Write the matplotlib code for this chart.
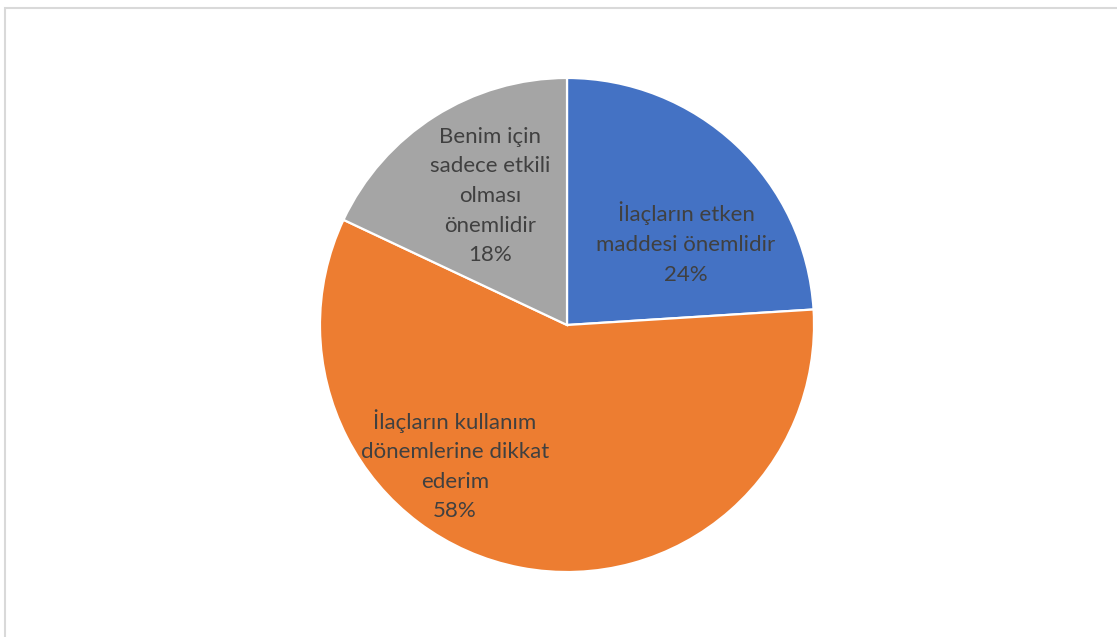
import matplotlib.pyplot as plt
from matplotlib.patches import Rectangle

labels = ["İlaçların etken\nmaddesi önemlidir",
          "İlaçların kullanım\ndönemlerine dikkat\nederim",
          "Benim için\nsadece etkili\nolması\nönemlidir"]
values = [24, 58, 18]
colors = ["#4472C4", "#ED7D31", "#A5A5A5"]
# label anchor points (fraction of radius)
label_pos = [(0.482, 0.332), (-0.453, -0.567), (-0.312, 0.522)]

plt.rcParams['font.family'] = ['Lato', 'DejaVu Sans']

fig = plt.figure(figsize=(11.17, 6.37), dpi=100)
cx, cy, r = 567, 637 - 325, 249.5
ax = fig.add_axes([(cx - r) / 1117, (cy - r) / 637, 2 * r / 1117, 2 * r / 637])

wedges, _ = ax.pie(values, colors=colors, startangle=90, counterclock=False,
                   radius=1, wedgeprops=dict(edgecolor="white", linewidth=1.6))
ax.set_xlim(-1.01, 1.01)
ax.set_ylim(-1.01, 1.01)
ax.set_aspect("equal")
ax.axis("off")

for lab, v, (x, y) in zip(labels, values, label_pos):
    ax.text(x, y, f"{lab}\n{v}%", ha="center", va="center", fontsize=16,
            color="#404040", linespacing=1.6)

fig.patches.append(Rectangle((5 / 1117, -0.1), 1.2, (637 - 8) / 637 + 0.1,
                             transform=fig.transFigure, fill=False,
                             edgecolor="#D9D9D9", linewidth=1.5))

fig.savefig("out.png", dpi=100)
